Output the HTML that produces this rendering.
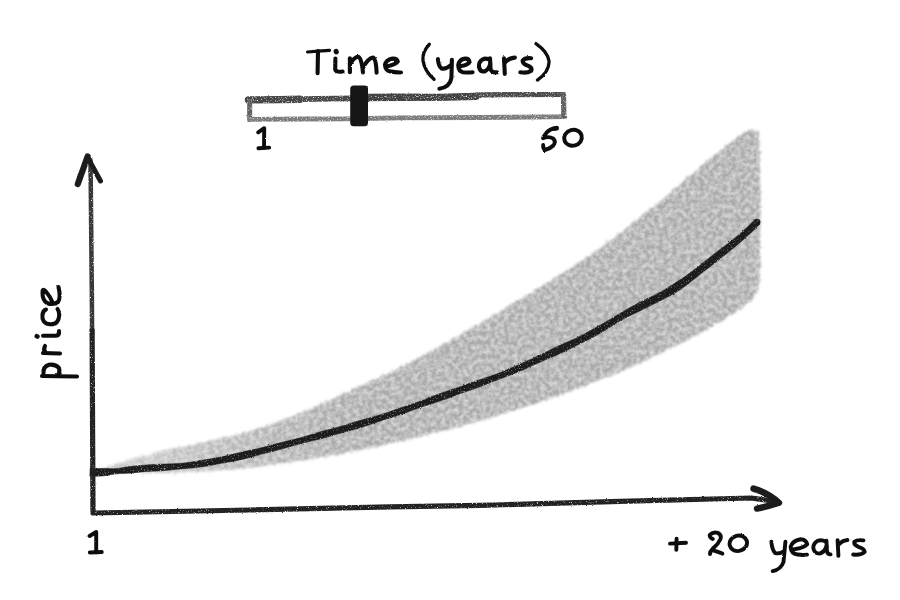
<!DOCTYPE html>
<html>
<head>
<meta charset="utf-8">
<title>Time (years) price chart</title>
<style>
html,body{margin:0;padding:0;background:#fff;}
body{width:900px;height:600px;overflow:hidden;font-family:"Liberation Sans",sans-serif;}
svg{display:block;}
.ink{fill:none;stroke-linecap:round;stroke-linejoin:round;}
</style>
</head>
<body>
<svg width="900" height="600" viewBox="0 0 900 600">
<defs>
  <linearGradient id="bandfill" gradientUnits="userSpaceOnUse" x1="100" y1="0" x2="340" y2="0">
    <stop offset="0" stop-color="#cfcfcf"/>
    <stop offset="0.45" stop-color="#bcbcbc"/>
    <stop offset="1" stop-color="#ababab"/>
  </linearGradient>
  <filter id="rough" x="-5%" y="-5%" width="110%" height="110%">
    <feTurbulence type="fractalNoise" baseFrequency="0.9" numOctaves="2" seed="3" result="n"/>
    <feDisplacementMap in="SourceGraphic" in2="n" scale="1.7" xChannelSelector="R" yChannelSelector="G"/>
  </filter>
  <filter id="chalk" x="-5%" y="-5%" width="110%" height="110%">
    <feTurbulence type="fractalNoise" baseFrequency="0.8" numOctaves="2" seed="7" result="n"/>
    <feDisplacementMap in="SourceGraphic" in2="n" scale="2" xChannelSelector="R" yChannelSelector="G" result="d"/>
    <feColorMatrix in="n" type="matrix" values="0 0 0 0 0  0 0 0 0 0  0 0 0 0 0  3.2 0 0 0 -0.45" result="a"/>
    <feComposite in="d" in2="a" operator="in"/>
  </filter>
  <filter id="grain" x="-5%" y="-5%" width="110%" height="110%">
    <feTurbulence type="fractalNoise" baseFrequency="0.7" numOctaves="2" seed="21" result="n"/>
    <feDisplacementMap in="SourceGraphic" in2="n" scale="2.2" xChannelSelector="R" yChannelSelector="G" result="d"/>
    <feColorMatrix in="n" type="matrix" values="0 0 0 0 0  0 0 0 0 0  0 0 0 0 0  3 0 0 0 -0.2" result="a"/>
    <feComposite in="d" in2="a" operator="in" result="c"/>
    <feGaussianBlur in="c" stdDeviation="0.55"/>
  </filter>
  <filter id="chalkaxis" x="-5%" y="-5%" width="110%" height="110%">
    <feTurbulence type="fractalNoise" baseFrequency="0.8" numOctaves="2" seed="7" result="n"/>
    <feDisplacementMap in="SourceGraphic" in2="n" scale="2" xChannelSelector="R" yChannelSelector="G" result="d"/>
    <feColorMatrix in="n" type="matrix" values="0 0 0 0 0  0 0 0 0 0  0 0 0 0 0  4 0 0 0 -0.5" result="a"/>
    <feComposite in="d" in2="a" operator="in"/>
  </filter>
  <filter id="band" x="-5%" y="-5%" width="110%" height="110%">
    <feTurbulence type="fractalNoise" baseFrequency="0.35" numOctaves="2" seed="11" result="n"/>
    <feDisplacementMap in="SourceGraphic" in2="n" scale="6" xChannelSelector="R" yChannelSelector="G" result="d"/>
    <feGaussianBlur in="d" stdDeviation="0.9" result="b"/>
    <feTurbulence type="fractalNoise" baseFrequency="0.22" numOctaves="2" seed="5" result="t"/>
    <feColorMatrix in="t" type="matrix" values="0 0 0 0 1  0 0 0 0 1  0 0 0 0 1  0.9 0 0 0 -0.28" result="w"/>
    <feComposite in="w" in2="b" operator="in" result="wi"/>
    <feMerge><feMergeNode in="b"/><feMergeNode in="wi"/></feMerge>
  </filter>
</defs>
<rect width="900" height="600" fill="#fff"/>

<!-- uncertainty band -->
<g filter="url(#band)">
<path fill="url(#bandfill)" d="M100.0,469.7 L110.0,465.9 L120.0,462.5 L130.0,459.4 L140.0,456.6 L150.0,454.0 L160.0,451.6 L170.0,449.3 L180.0,447.2 L190.0,445.1 L200.0,443.0 L210.0,440.8 L220.0,438.6 L230.0,436.2 L240.0,433.7 L250.0,430.9 L260.0,427.9 L270.0,424.6 L280.0,421.0 L290.0,417.2 L300.0,413.1 L310.0,408.9 L320.0,404.6 L330.0,400.2 L340.0,395.7 L350.0,391.2 L360.0,386.6 L370.0,382.0 L380.0,377.3 L390.0,372.4 L400.0,367.5 L410.0,362.3 L420.0,357.0 L430.0,351.6 L440.0,346.1 L450.0,340.5 L460.0,334.8 L470.0,329.0 L480.0,323.2 L490.0,317.3 L500.0,311.4 L510.0,305.4 L520.0,299.4 L530.0,293.4 L540.0,287.4 L550.0,281.3 L560.0,275.1 L570.0,268.8 L580.0,262.2 L590.0,255.3 L600.0,248.1 L610.0,240.6 L620.0,233.0 L630.0,225.3 L640.0,217.5 L650.0,209.6 L660.0,201.4 L670.0,192.9 L680.0,184.2 L690.0,175.5 L700.0,167.0 L710.0,158.9 L720.0,150.9 L730.0,143.2 L740.0,135.5 L745.0,131.7 L751,130 L759,131.5 L760.5,200 L759.5,284 L757.5,291 L752.5,299 L742.5,307.5 L740.0,309.1 L730.0,315.6 L720.0,321.7 L710.0,327.6 L700.0,333.1 L690.0,338.5 L680.0,343.6 L670.0,348.5 L660.0,353.4 L650.0,358.1 L640.0,362.7 L630.0,367.2 L620.0,371.5 L610.0,375.8 L600.0,379.9 L590.0,384.0 L580.0,387.8 L570.0,391.6 L560.0,395.2 L550.0,398.7 L540.0,402.1 L530.0,405.4 L520.0,408.6 L510.0,411.7 L500.0,414.7 L490.0,417.6 L480.0,420.5 L470.0,423.3 L460.0,426.1 L450.0,428.8 L440.0,431.4 L430.0,434.0 L420.0,436.5 L410.0,438.9 L400.0,441.3 L390.0,443.6 L380.0,445.8 L370.0,448.0 L360.0,450.0 L350.0,452.0 L340.0,453.9 L330.0,455.8 L320.0,457.5 L310.0,459.2 L300.0,460.8 L290.0,462.3 L280.0,463.7 L270.0,465.0 L260.0,466.2 L250.0,467.3 L240.0,468.4 L230.0,469.3 L220.0,470.1 L210.0,470.9 L200.0,471.5 L190.0,472.0 L180.0,472.5 L170.0,472.8 L160.0,473.0 L150.0,473.1 L140.0,473.1 L130.0,472.9 L120.0,472.7 L110.0,472.4 L100.0,471.9 Z"/>
</g>

<!-- mean curve -->
<g filter="url(#grain)">
<path fill="#1e1e1e" stroke="#1e1e1e" stroke-width="0.6" stroke-linejoin="round" d="M89.9,476.3 L96.0,476.2 L102.1,476.0 L108.2,475.3 L114.2,474.1 L120.3,473.4 L126.3,473.3 L132.3,472.9 L138.3,472.2 L144.2,471.7 L150.2,471.3 L156.2,471.1 L162.2,470.7 L168.2,470.2 L174.2,469.6 L180.2,469.0 L186.3,468.4 L192.4,467.9 L198.4,467.2 L204.5,466.4 L210.5,465.4 L216.6,464.2 L222.6,463.1 L228.7,462.0 L234.7,460.9 L240.8,459.7 L246.8,458.2 L252.8,456.6 L258.8,454.9 L264.8,453.3 L270.8,451.8 L276.8,450.3 L282.8,448.7 L288.8,447.0 L294.7,445.2 L300.7,443.6 L306.8,442.1 L312.8,440.7 L318.9,439.2 L324.9,437.7 L330.9,436.0 L336.9,434.2 L342.9,432.5 L348.9,430.9 L355.0,429.3 L361.0,427.6 L367.0,425.6 L372.9,423.6 L378.9,421.5 L384.9,419.5 L391.0,417.6 L397.0,415.7 L403.0,413.7 L409.0,411.5 L415.0,409.3 L421.0,407.2 L427.0,405.2 L433.1,403.3 L439.2,401.3 L445.2,399.2 L451.1,396.9 L457.1,394.7 L463.1,392.6 L469.1,390.5 L475.1,388.5 L481.1,386.3 L487.1,384.0 L493.0,381.6 L499.0,379.2 L505.1,377.0 L511.2,374.7 L517.2,372.4 L523.3,369.8 L529.3,367.1 L535.3,364.3 L541.4,361.6 L547.4,359.0 L553.5,356.4 L559.6,353.8 L565.6,351.0 L571.5,348.0 L577.5,345.0 L583.5,342.0 L589.6,339.0 L595.7,335.8 L601.8,332.3 L607.7,328.5 L613.7,324.7 L619.6,321.1 L625.6,317.8 L631.7,314.8 L637.7,311.9 L643.7,309.0 L649.7,306.0 L655.7,303.0 L661.8,299.9 L667.9,296.8 L674.1,293.4 L680.3,289.6 L686.3,285.3 L692.3,280.6 L698.2,275.9 L704.2,271.1 L710.3,266.4 L716.3,261.8 L722.3,257.1 L728.2,252.3 L734.2,247.4 L740.2,242.4 L746.2,237.1 L752.3,231.5 L759.6,224.3 L755.0,219.6 L747.7,226.8 L741.8,232.2 L735.8,237.3 L729.8,242.1 L723.8,246.7 L717.7,251.3 L711.7,255.9 L705.7,260.7 L699.8,265.5 L693.8,270.2 L687.7,274.6 L681.7,278.8 L675.7,282.6 L669.9,286.3 L664.1,289.9 L658.2,293.2 L652.3,296.3 L646.3,299.2 L640.3,302.1 L634.3,305.2 L628.3,308.5 L622.4,312.0 L616.4,315.6 L610.3,319.3 L604.3,322.8 L598.2,326.2 L592.3,329.5 L586.4,332.8 L580.5,335.9 L574.5,338.9 L568.5,341.6 L562.4,344.2 L556.4,346.9 L550.5,349.8 L544.6,352.8 L538.6,355.7 L532.7,358.6 L526.7,361.2 L520.7,363.8 L514.8,366.4 L508.8,369.0 L502.9,371.5 L497.0,373.8 L491.0,376.0 L484.9,377.9 L478.9,379.9 L472.9,382.0 L466.9,384.2 L460.9,386.4 L454.9,388.5 L448.9,390.5 L442.8,392.6 L436.8,394.7 L430.9,397.0 L425.0,399.4 L419.0,401.6 L413.0,403.8 L407.0,405.8 L401.0,407.7 L395.0,409.8 L389.0,411.9 L383.1,413.9 L377.1,415.8 L371.1,417.5 L365.0,419.1 L359.0,420.8 L353.0,422.6 L347.1,424.4 L341.1,426.3 L335.1,428.0 L329.1,429.6 L323.1,431.1 L317.1,432.8 L311.2,434.6 L305.2,436.4 L299.3,438.1 L293.3,439.6 L287.2,441.1 L281.2,442.5 L275.2,444.1 L269.2,445.7 L263.2,447.3 L257.2,448.8 L251.2,450.1 L245.2,451.3 L239.2,452.7 L233.3,454.1 L227.3,455.6 L221.4,456.9 L215.4,458.1 L209.5,459.1 L203.5,460.0 L197.6,461.0 L191.6,461.9 L185.7,462.8 L179.8,463.4 L173.8,463.7 L167.8,463.9 L161.8,464.1 L155.8,464.4 L149.8,464.8 L143.8,465.2 L137.7,465.7 L131.7,466.2 L125.7,467.0 L119.7,468.2 L113.8,468.7 L107.8,468.4 L101.9,468.4 L96.0,468.4 L90.1,468.2 Z M753.8,222.2 a3.2,3.2 0 1,0 6.4,0 a3.2,3.2 0 1,0 -6.4,0 Z"/>
</g>

<!-- axes -->
<g filter="url(#chalkaxis)">
<path class="ink" stroke="#383838" stroke-width="4.5" d="M90.5,160 L91.3,240 L91.9,300 L92.1,335"/>
<path class="ink" stroke="#222" stroke-width="5.2" d="M92.1,330 L93,513 L250,510 L390,506.8 L480,505.4 L620,501.4 L751,498 L776,501.5"/>
</g>
<g filter="url(#rough)">
<path class="ink" stroke="#1c1c1c" stroke-width="6.2" d="M77.8,184 L87.6,156.5"/>
<path class="ink" stroke="#1c1c1c" stroke-width="5" d="M89,160 L100.5,181"/>
<path class="ink" stroke="#1c1c1c" stroke-width="6.4" d="M753.5,488.6 Q768,492.8 779,502.8 Q768,506.5 757,508.6"/>
</g>

<!-- slider -->
<g filter="url(#chalk)">
<path class="ink" stroke="#444" stroke-width="7.4" d="M248.5,99.9 L280,99.6 L300,99.3"/>
<path class="ink" stroke="#484848" stroke-width="5.8" d="M300,99.2 L335,98.6 L352,98.3"/>
<path class="ink" stroke="#424242" stroke-width="7.4" d="M366,97.5 L400,97.2 L438,97.4 L476,96.4"/>
<path class="ink" stroke="#4c4c4c" stroke-width="5.2" d="M477,94.9 L520,94.6 L551,94.4 L563,94.3"/>
<path class="ink" stroke="#606060" stroke-width="5" d="M249.7,101 L249.7,120"/>
<path class="ink" stroke="#7c7c7c" stroke-width="4.8" d="M250,119.3 L300,119 L352,118.8"/>
<path class="ink" stroke="#7c7c7c" stroke-width="4.8" d="M366,118.5 L400,117.9 L480,117.5 L551,116.9 L565,116.7"/>
<path class="ink" stroke="#606060" stroke-width="5.2" d="M563.5,94 L563.8,116"/>
</g>
<g filter="url(#rough)">
<rect x="350.2" y="85.6" width="17.8" height="40.6" rx="3.5" ry="3.5" fill="#161616"/>
</g>

<!-- text -->
<g filter="url(#rough)">
<g class="ink" stroke="#111" stroke-width="4.1">
<!-- Time (years) -->
<path stroke-width="3.2" d="M307.5,52 L318,51.2 L329.5,50.3"/>
<path d="M318,51 L317.6,73.3"/>
<path d="M336.1,51.3 L336.3,51.9" stroke-width="5"/>
<path d="M335.4,58.5 L335.2,69 Q335.5,72.5 342.6,71.5"/>
<path d="M349.9,58.3 L349.9,72.3"/>
<path d="M350,64 Q354,57.5 358,56.8 Q361.5,57 363,72.5"/>
<path d="M363.4,67 Q368,58.5 373,57.5 Q376,58 376.6,72.6"/>
<path d="M387,66.5 Q395.5,64.5 397.8,61.6 Q396.8,58.3 392.5,58.6 Q386,59.8 385,65 Q385.3,70.3 389.5,71.3 Q395,72.6 401,72.5"/>
<path stroke-width="3.4" d="M429.3,44.3 Q422,52 423,60.5 Q424.5,71 434,79.3"/>
<path d="M437.9,59.1 Q438.5,66 441.5,68.4 Q446,69.5 451,65"/>
<path d="M451.9,59.9 L451.4,78 Q450,87 439.4,88.7"/>
<path d="M460,66.3 Q467.5,65 469.6,62.2 Q469,58.4 465,58.6 Q459.3,59.3 458.2,65.3 Q458.6,71.4 463,72.2 Q468,72.8 472.6,72.2"/>
<path d="M490,60 Q486,57.5 482.5,59.5 Q478.5,62 479,67 Q480,72 484.5,71.5 Q488.5,70 490.2,64"/>
<path d="M490,58.3 L490.6,69.5 Q492,73 497,72.3"/>
<path d="M504,58.3 L504.8,73.9"/>
<path d="M504.8,62.5 Q509,58 514.9,57.6"/>
<path d="M531.2,58.3 Q525,57.5 522.6,60.7 Q522.5,64 528.9,66.1 Q532.5,68 531.2,70.8 Q527,73.5 520.3,72.3"/>
<path stroke-width="3.3" d="M535.9,43.6 Q548,52 549.1,61.4 Q549,72 537.4,80.1"/>
</g>
<g class="ink" stroke="#111" stroke-width="3.9">
<!-- slider labels 1 and 50 -->
<path d="M258.2,132.3 L264.2,128.2 L264,147.8"/>
<path d="M258.4,148.2 L269.2,147.6"/>
<path d="M556.8,128.3 Q551,128 546.5,132.7 Q543.8,136 543,138.2 Q549,135.8 553.3,138.6 Q556.3,142 553.3,145.5 Q550,148.8 544.8,150 Q542.8,148.2 543.2,145"/>
<path stroke-width="4.6" d="M554.5,128.6 L556.6,128.2"/>
<ellipse cx="573" cy="137.8" rx="8.9" ry="7.9" transform="rotate(-15 573 137.8)"/>
<!-- axis 1 -->
<path d="M89.6,536 L96.2,532 L96.2,552.2"/>
<path d="M89.8,552.5 L101.8,552"/>
<!-- + 20 years -->
<path d="M670,543.6 L686,542.8"/>
<path d="M676.6,538.6 L676.3,549.8"/>
<path d="M712.8,539 Q708.8,537 710,534.6 Q713,531.8 717.5,532.8 Q722,534.8 720.4,539.2 Q718,544.5 712.8,548.6 Q709.8,551.5 710,554 Q710.3,549.8 714,550.6 Q719,552 722.3,553.6"/>
<ellipse cx="738.3" cy="543.3" rx="8.8" ry="7.7" transform="rotate(-15 738.3 543.3)"/>
<path d="M771.4,541.7 Q772,550 775.2,553.2 Q780,554 784.2,551"/>
<path d="M785.4,541.7 L783.5,562 Q781,569.5 772.7,571.1"/>
<path d="M793.1,549.4 Q804,548 807.2,544.3 Q806,539.5 800.8,539.2 Q792.5,540.5 790.6,546.8 Q791,553.5 797.5,554.5 Q803,555.3 807,554.6"/>
<path d="M826.2,542 Q822,539.2 817.8,540.8 Q813.2,543.2 813.3,548 Q814.2,553.6 819.5,553.6 Q824.5,552.2 826.6,546"/>
<path d="M826.4,540.6 L827,551.5 Q827.8,554.6 830.6,554.4"/>
<path d="M837.6,540.2 L838.4,555.8"/>
<path d="M838.2,545 Q842,540.6 847.4,540"/>
<path d="M863.4,540.4 Q857,539.5 854.4,541.7 Q853.5,544.5 858.3,546.8 Q864.5,548.5 864.7,551.9 Q861,555.5 853.2,554.5"/>
</g>
<g class="ink" stroke="#111" stroke-width="4.1">
<!-- price (rotated) -->
<path d="M42,376 L77,376.5"/>
<path d="M43.5,373.5 Q43,366.5 49,364.8 Q55.5,364 59,368 Q60.3,372.5 57.5,375.5"/>
<path d="M43,353 L60,353.5"/>
<path d="M45.5,352.5 Q43,349.5 45,346"/>
<path d="M36.8,336.2 L37.4,336.5" stroke-width="4.6"/>
<path d="M43,335.8 L56,335.8 Q59.5,335.4 59,331"/>
<path d="M46,309.5 C41.8,311 41.5,318 43.8,321.3 C46.5,325 54,325.3 57,321.8 C59.8,318.5 60,312 57.5,309"/>
<path d="M53,303.5 Q50,296 45.5,291 Q42,288 42.5,293 Q42.5,300 47,303 Q53,305.5 58,302 Q61,297.5 58.5,287"/>
</g>
</g>
</svg>
</body>
</html>
